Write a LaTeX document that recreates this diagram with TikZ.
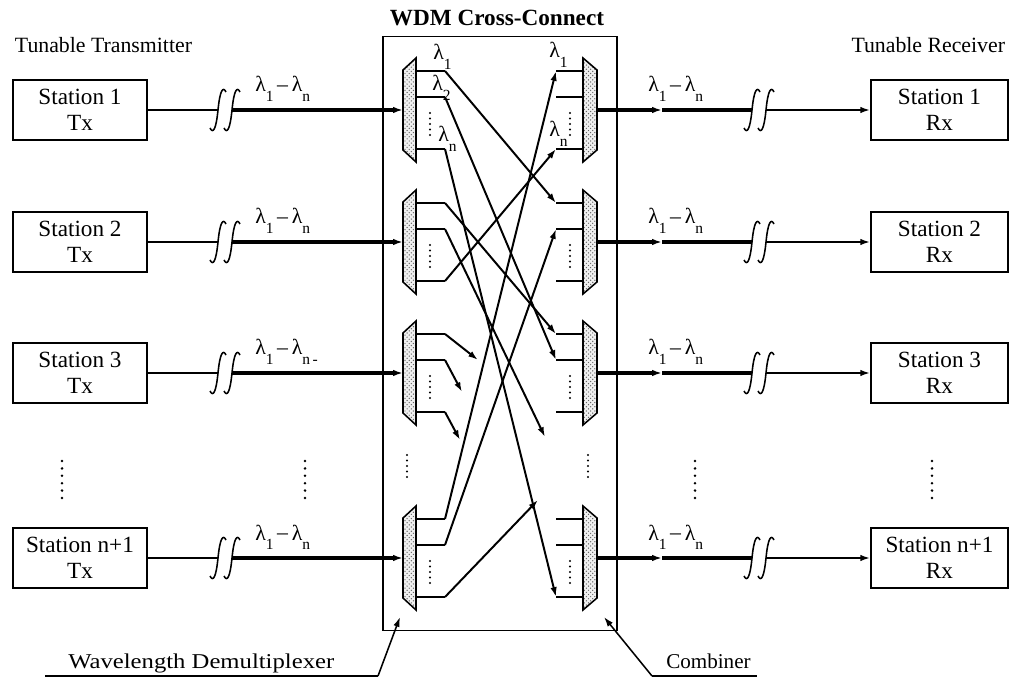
\documentclass[tikz,border=0pt]{standalone}
\usepackage{fontspec}
\setmainfont{Liberation Serif}
\usetikzlibrary{arrows.meta,patterns}
\newcommand{\lsub}[1]{\raisebox{-6.5pt}{\fontsize{11}{11}\selectfont #1}}
\newcommand{\lamlbl}[2]{λ\lsub{#1}\,\raisebox{0.5pt}{–}\,λ\lsub{#2}}
\begin{document}
\begin{tikzpicture}[x=0.025cm,y=-0.025cm,
  stbox/.style={draw,line width=0.9pt,minimum width=3.35cm,minimum height=1.5cm,align=center,inner sep=0pt,font=\fontsize{16.5}{18.5}\selectfont},
  fiber/.style={line width=2.4pt},
  fiberlt/.style={line width=1.7pt},
  conn/.style={line width=1.4pt},
  tip/.style={-{Latex[length=7pt,width=4.6pt]}},
  unitfill/.style={fill=gray!12},
  unit/.style={draw,line width=1.1pt,pattern=crosshatch dots,pattern color=black!60},
  lbl/.style={font=\fontsize{15.5}{17}\selectfont},
  lam/.style={font=\fontsize{15.5}{16}\selectfont,inner sep=0pt,anchor=base west},
  brk/.style={line width=1.1pt},
  brkmark/.pic={\draw[brk] (-8,18) .. controls (-5,24) and (-2,20) .. (0,0) .. controls (2,-20) and (5,-24) .. (8,-18);}
]
\useasboundingbox (0,0) rectangle (1019,681);
\node[draw,line width=0.8pt,minimum width=5.85cm,minimum height=14.825cm,inner sep=0pt] (wdm) at (500,333.5) {};
\node[font=\bfseries\fontsize{16.5}{18}\selectfont] (wdmt) at (497,18) {WDM Cross-Connect};
\node[lbl,anchor=west] (ttx) at (10,45) {Tunable Transmitter};
\node[lbl,anchor=east] (trx) at (1010,45) {Tunable Receiver};

\foreach \r/\y/\n in {1/110/1,2/242/2,3/373/3,4/558/n+1}{
  \node[stbox] (tx\r) at (80,\y) {Station \n\\Tx};
  \node[stbox,minimum width=3.43cm] (rx\r) at (939.5,\y) {Station \n\\Rx};
  \fill[unitfill] (403,\y-40) -- (416,\y-52) -- (416,\y+52) -- (403,\y+40) -- cycle;
  \draw[unit] (403,\y-40) -- (416,\y-52) -- (416,\y+52) -- (403,\y+40) -- cycle;
  \fill[unitfill] (597,\y-40) -- (583,\y-52) -- (583,\y+52) -- (597,\y+40) -- cycle;
  \draw[unit] (597,\y-40) -- (583,\y-52) -- (583,\y+52) -- (597,\y+40) -- cycle;
  \coordinate (d\r-in) at (403,\y);
  \coordinate (c\r-out) at (597,\y);
  \foreach \k/\o in {a/-39,b/-13,n/39}{
    \coordinate (d\r-\k) at (416,\y+\o);
    \coordinate (d\r-\k x) at (445,\y+\o);
    \draw[conn] (d\r-\k) -- (d\r-\k x);
    \coordinate (c\r-\k) at (583,\y+\o);
    \coordinate (c\r-\k x) at (556,\y+\o);
    \draw[conn] (c\r-\k x) -- (c\r-\k);
  }
  \foreach \j in {0,...,4}{
    \fill (430,\y+3+\j*5.5) circle (1.2);
    \fill (570,\y+3+\j*5.5) circle (1.2);
  }
  \coordinate (lb\r a) at (218,\y);
  \coordinate (lb\r b) at (232,\y);
  \draw[fiberlt] (tx\r.east) -- (lb\r a);
  \draw[fiber,tip] (lb\r b) -- (d\r-in);
  \pic at (lb\r a) {brkmark};
  \pic at (lb\r b) {brkmark};
  \coordinate (m\r) at (662,\y);
  \coordinate (rb\r a) at (752,\y);
  \coordinate (rb\r b) at (766,\y);
  \draw[fiber,tip] (c\r-out) -- (m\r);
  \draw[fiber] (m\r) -- (rb\r a);
  \draw[fiberlt,tip] (rb\r b) -- (rx\r.west);
  \pic at (rb\r a) {brkmark};
  \pic at (rb\r b) {brkmark};
  \node[lam] (rl\r) at (648,\y-18) {\lamlbl{1}{n}};
}
\node[lam] (ll1) at (255,92) {\lamlbl{1}{n}};
\node[lam] (ll2) at (255,224) {\lamlbl{1}{n}};
\node[lam] (ll3) at (255,355) {λ\lsub{1}\,\raisebox{0.5pt}{–}\,λ\lsub{n\,-}};
\node[lam] (ll4) at (255,540) {\lamlbl{1}{n}};

% inner labels
\node[lam] (l11) at (433,60) {λ\lsub{1}};
\node[lam] (l12) at (432,91) {λ\lsub{2}};
\node[lam] (l1n) at (438,142) {λ\lsub{n}};
\node[lam] (r11) at (549,58) {λ\lsub{1}};
\node[lam] (r1n) at (549,137) {λ\lsub{n}};

% connections
\draw[conn,tip] (d1-ax) -- (c2-ax);
\draw[conn,tip] (d1-bx) -- (c3-bx);
\draw[conn,tip] (d1-nx) -- (c4-nx);
\draw[conn,tip] (d2-ax) -- (c3-ax);
\draw[conn,tip] (d2-nx) -- (c1-nx);
\draw[conn,tip] (d4-ax) -- (c1-ax);
\draw[conn,tip] (d4-bx) -- (c2-bx);
\coordinate (e1) at (478,360);
\coordinate (e2) at (462,392);
\coordinate (e3) at (460,440);
\coordinate (e4) at (545,437);
\coordinate (e5) at (538,500);
\draw[conn,tip] (d3-ax) -- (e1);
\draw[conn,tip] (d3-bx) -- (e2);
\draw[conn,tip] (d3-nx) -- (e3);
\draw[conn,tip] (d2-bx) -- (e4);
\draw[conn,tip] (d4-nx) -- (e5);

% vertical dots
\foreach \x in {62,305,695,932}{
  \foreach \j in {0,...,5}{\fill (\x,461+\j*7.4) circle (1.4);}
}
\foreach \j in {0,...,4}{
  \fill (407,455+\j*5.5) circle (1.2);
  \fill (588,455+\j*5.5) circle (1.2);
}

% bottom labels
\node[font=\fontsize{15}{17}\selectfont,anchor=base west,inner sep=0pt] (wdl) at (68,668) {\scalebox{1.17}[1]{Wavelength Demultiplexer}};
\coordinate (wu1) at (45,676);
\coordinate (wu2) at (378,676);
\coordinate (wtip) at (400,617);
\draw[line width=1.1pt] (wu1) -- (wu2);
\draw[line width=1.1pt,tip] (wu2) -- (wtip);
\node[font=\fontsize{15}{17}\selectfont,anchor=base west,inner sep=0pt] (cbl) at (666,668) {Combiner};
\coordinate (cu1) at (652,676);
\coordinate (cu2) at (757,676);
\coordinate (ctip) at (604,617);
\draw[line width=1.1pt] (cu1) -- (cu2);
\draw[line width=1.1pt,tip] (cu1) -- (ctip);
\end{tikzpicture}
\end{document}
